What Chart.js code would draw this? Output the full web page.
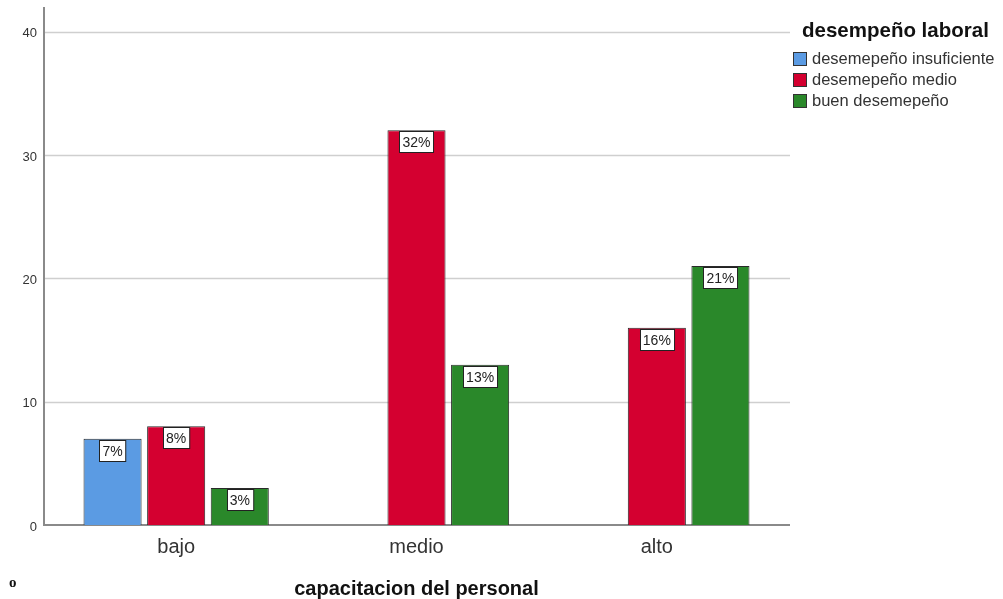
<!DOCTYPE html>
<html>
<head>
<meta charset="utf-8">
<script src="https://cdn.jsdelivr.net/npm/chart.js@4.4.1/dist/chart.umd.min.js"></script>
<style>
  html, body { margin: 0; padding: 0; background: #fff; }
  #wrap { position: relative; width: 1003px; height: 599px; }
  #legend { position: absolute; left: 793px; top: 17px; font-family: "Liberation Sans", Arial, sans-serif; color: #222; white-space: nowrap; }
  #legend .title { font-weight: bold; font-size: 20.5px; line-height: 26px; margin-left: 9px; margin-bottom: 5px; color: #111; }
  #legend .item { display: flex; align-items: center; height: 21px; font-size: 16.5px; color: #333; }
  #legend .sw { width: 14px; height: 14px; border: 1px solid #333; margin-right: 5px; box-sizing: border-box; flex: none; }
</style>
</head>
<body>
<div id="wrap">
  <canvas id="c" width="1003" height="599"></canvas>
  <div id="legend"></div>
</div>
<script>
// Categories and counts per performance level
const categories = ['bajo', 'medio', 'alto'];
const seriesNames = ['desemepeño insuficiente', 'desemepeño medio', 'buen desemepeño'];
const insuficiente = [7, null, null];
const medio = [8, 32, 16];
const bueno = [3, 13, 21];
const percentLabels = [['7%', null, null], ['8%', '32%', '16%'], ['3%', '13%', '21%']];
const yTicks = [0, 10, 20, 30, 40];
const colors = ['#5b9be3', '#d40030', '#2a882a'];

const seriesValues = [insuficiente, medio, bueno];

// legend
const legend = document.getElementById('legend');
legend.innerHTML = '<div class="title">desempeño laboral</div>' +
  seriesNames.map((n, i) => '<div class="item"><span class="sw" style="background:' + colors[i] + '"></span>' + n + '</div>').join('');

const FONT = '"Liberation Sans", Arial, sans-serif';

// grid lines and axis lines drawn slightly wider than the plotting area
const framePlugin = {
  id: 'frame',
  beforeDatasetsDraw(chart) {
    const { ctx, scales: { y } } = chart;
    const x0 = 44, x1 = 790;
    ctx.save();
    ctx.strokeStyle = '#cfcfcf';
    ctx.lineWidth = 1.5;
    yTicks.forEach(v => {
      if (v === 0) return;
      const py = Math.round(y.getPixelForValue(v)) + 0.5;
      ctx.beginPath(); ctx.moveTo(x0, py); ctx.lineTo(x1, py); ctx.stroke();
    });
    ctx.strokeStyle = '#8a8a8a';
    ctx.lineWidth = 2;
    const by = y.getPixelForValue(0);
    ctx.beginPath(); ctx.moveTo(x0, y.top); ctx.lineTo(x0, by); ctx.lineTo(x1, by); ctx.stroke();
    ctx.restore();
  },
  afterDatasetsDraw(chart) {
    const { ctx } = chart;
    ctx.save();
    ctx.font = '14px ' + FONT;
    ctx.textAlign = 'center';
    ctx.textBaseline = 'middle';
    chart.data.datasets.forEach((ds, di) => {
      const meta = chart.getDatasetMeta(di);
      meta.data.forEach((bar, i) => {
        const txt = percentLabels[di][i];
        if (!txt || ds.data[i] == null) return;
        const w = ctx.measureText(txt).width + 6;
        const h = 21;
        const bx = Math.round(bar.x - w / 2) + 0.5;
        const byy = Math.round(bar.y) + 1.5;
        ctx.fillStyle = '#fff';
        ctx.fillRect(bx, byy, w, h);
        ctx.strokeStyle = '#222';
        ctx.lineWidth = 1;
        ctx.strokeRect(bx, byy, w, h);
        ctx.fillStyle = '#222';
        ctx.fillText(txt, bar.x, byy + h / 2 + 1);
      });
    });
    // stray mark at the lower-left corner
    ctx.font = 'bold 15px "Liberation Serif", serif';
    ctx.textAlign = 'left';
    ctx.fillStyle = '#111';
    ctx.fillText('o', 9, 583);
    ctx.restore();
  }
};

new Chart(document.getElementById('c'), {
  type: 'bar',
  data: {
    labels: categories,
    datasets: seriesValues.map((vals, i) => ({
      label: seriesNames[i],
      data: vals,
      backgroundColor: colors[i],
      borderColor: '#2a2a2a',
      borderWidth: 1,
      categoryPercentage: 0.794,
      barPercentage: 0.913
    }))
  },
  options: {
    responsive: false,
    animation: false,
    layout: { padding: { top: 7, right: 226, left: 0, bottom: 0 } },
    plugins: { legend: { display: false }, tooltip: { enabled: false } },
    scales: {
      x: {
        grid: { display: false },
        border: { display: false },
        ticks: { font: { family: FONT, size: 20 }, color: '#333', padding: 2 },
        title: { display: true, text: 'capacitacion del personal', font: { family: FONT, size: 20, weight: 'bold' }, color: '#111', padding: { top: 10, bottom: -2 } },
        afterFit(s) { s.height = 74; }
      },
      y: {
        min: 0, max: 42,
        grid: { display: false },
        border: { display: false },
        ticks: { stepSize: 10, font: { family: FONT, size: 13 }, color: '#333', padding: 11, labelOffset: 2 },
        afterBuildTicks(s) { s.ticks = yTicks.map(v => ({ value: v })); },
        afterFit(s) { s.width = 56; s.paddingTop = 0; s.paddingBottom = 0; }
      }
    }
  },
  plugins: [framePlugin]
});
</script>
</body>
</html>
